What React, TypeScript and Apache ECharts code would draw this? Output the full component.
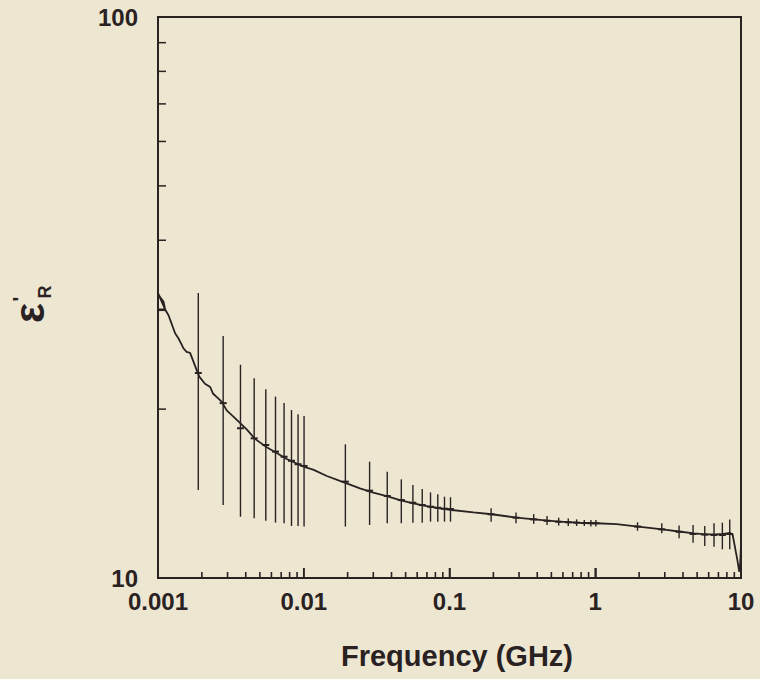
import React, { useEffect, useRef } from "react";
import * as echarts from "echarts";

const curveFreq = [
  0.001, 0.00112, 0.001, 0.00103, 0.00109, 0.00112, 0.00118, 0.00124, 0.00131, 0.00138,
  0.00146, 0.00149, 0.00157, 0.00166, 0.00173, 0.00184, 0.00192, 0.0021, 0.00228, 0.00239,
  0.00259, 0.00274, 0.00296, 0.00329, 0.00365, 0.00406, 0.00463, 0.00557, 0.00652, 0.00764,
  0.00848, 0.00993, 0.0116, 0.0144, 0.0177, 0.0197, 0.0243, 0.03, 0.0371, 0.0458,
  0.0564, 0.0698, 0.0861, 0.1035, 0.146, 0.195, 0.289, 0.382, 0.472, 0.567,
  0.753, 1.02, 1.4, 1.97, 2.9, 3.86, 4.76, 5.73, 6.63, 7.56,
  8.4, 8.77, 8.99, 9.44, 9.73, 9.87, 10.0,
];
const curveEps = [
  30.1, 30.1, 32.2, 31.7, 31.1, 30.1, 29.4, 28.4, 27.3, 26.75,
  26.0, 25.7, 25.3, 25.2, 24.5, 23.5, 22.85, 22.2, 21.9, 21.3,
  20.9, 20.6, 19.9, 19.4, 18.9, 18.4, 17.7, 17.1, 16.7, 16.3,
  16.1, 15.8, 15.6, 15.2, 14.9, 14.75, 14.45, 14.2, 14.0, 13.77,
  13.59, 13.43, 13.31, 13.22, 13.09, 12.99, 12.81, 12.72, 12.65, 12.6,
  12.55, 12.52, 12.47, 12.35, 12.21, 12.09, 12.01, 11.96, 11.96, 11.98,
  12.04, 11.93, 11.53, 10.77, 10.26, 10.6, 11.5,
];

const barFreq = [
  0.00189, 0.0028, 0.00368, 0.00457, 0.00549, 0.0064, 0.00733, 0.00824, 0.00914, 0.01005,
  0.0193, 0.0283, 0.0374, 0.0467, 0.0561, 0.065, 0.0741, 0.0831, 0.0924, 0.1016,
  0.193, 0.286, 0.378, 0.467, 0.561, 0.653, 0.745, 0.841, 0.934, 1.01,
  1.95, 2.86, 3.76, 4.69, 5.64, 6.53, 7.45, 8.37,
];
const barCenter = [
  23.2, 20.5, 18.49, 17.74, 17.26, 16.8, 16.45, 16.18, 15.95, 15.84,
  14.85, 14.31, 14.0, 13.77, 13.62, 13.49, 13.4, 13.34, 13.29, 13.27,
  12.99, 12.81, 12.72, 12.65, 12.6, 12.57, 12.55, 12.53, 12.52, 12.52,
  12.35, 12.21, 12.09, 11.98, 11.95, 11.93, 11.93, 11.98,
];
const barLow = [
  14.35, 13.49, 12.86, 12.78, 12.65, 12.55, 12.52, 12.38, 12.38, 12.35,
  12.35, 12.43, 12.52, 12.52, 12.55, 12.55, 12.6, 12.6, 12.6, 12.6,
  12.6, 12.52, 12.49, 12.43, 12.4, 12.38, 12.38, 12.38, 12.35, 12.35,
  12.14, 12.02, 11.77, 11.56, 11.4, 11.37, 11.25, 11.25,
];
const barHigh = [
  32.2, 27.0, 24.0, 22.7, 21.7, 21.05, 20.5, 19.93, 19.58, 19.45,
  17.31, 16.12, 15.47, 14.99, 14.65, 14.41, 14.21, 14.1, 13.96, 13.93,
  13.31, 13.09, 13.0, 12.9, 12.81, 12.76, 12.72, 12.69, 12.69, 12.69,
  12.57, 12.52, 12.4, 12.43, 12.38, 12.52, 12.55, 12.72,
];

const xMajorTicks = [0.01, 0.1, 1, 10];
const xMinorTicks = [
  0.002, 0.003, 0.004, 0.005, 0.006, 0.007, 0.008, 0.009,
  0.02, 0.03, 0.04, 0.05, 0.06, 0.07, 0.08, 0.09,
  0.2, 0.3, 0.4, 0.5, 0.6, 0.7, 0.8, 0.9,
  2, 3, 4, 5, 6, 7, 8, 9,
];
const yMinorTicks = [20, 30, 40, 50, 60, 70, 80, 90];
const xTickLabels = ["0.001", "0.01", "0.1", "1", "10"];
const yTickLabels = ["10", "100"];

const BG = "#EDE7D2";
const INK = "#2a2222";
const FONT = "'Liberation Sans', Arial, sans-serif";

export default function App() {
  const ref = useRef<HTMLDivElement>(null);
  useEffect(() => {
    if (!ref.current) return;
    const chart = echarts.init(ref.current, null, { renderer: "svg" });
    // [x, y, direction (0 = up from bottom axis, 1 = right from left axis), length]
    const tickData: number[][] = [];
    yMinorTicks.forEach((v) => tickData.push([0.001, v, 1, 8]));
    xMajorTicks.forEach((v) => tickData.push([v, 10, 0, 10]));
    xMinorTicks.forEach((v) => tickData.push([v, 10, 0, 6]));
    const option: any = {
      animation: false,
      backgroundColor: BG,
      grid: { left: 158, top: 17, width: 583, height: 561, show: true, borderColor: INK, borderWidth: 2 },
      xAxis: {
        type: "log",
        min: 0.001,
        max: 10,
        axisLine: { lineStyle: { color: INK, width: 2 } },
        axisTick: { show: true, inside: true, length: 10, lineStyle: { color: INK, width: 1.5 } },
        splitLine: { show: false },
        axisLabel: {
          margin: 11,
          color: INK,
          fontSize: 24,
          fontWeight: "bold",
          fontFamily: FONT,
          showMinLabel: true,
          showMaxLabel: true,
          formatter: (v: number) => xTickLabels[Math.round(Math.log10(v)) + 3] ?? "",
        },
      },
      yAxis: {
        type: "log",
        min: 10,
        max: 100,
        axisLine: { lineStyle: { color: INK, width: 2 } },
        axisTick: { show: false },
        splitLine: { show: false },
        axisLabel: {
          margin: 20,
          color: INK,
          fontSize: 24,
          fontWeight: "bold",
          fontFamily: FONT,
          showMinLabel: true,
          showMaxLabel: true,
          formatter: (v: number) => yTickLabels[Math.round(Math.log10(v)) - 1] ?? "",
        },
      },
      graphic: [
        {
          type: "text",
          x: 457,
          y: 656,
          style: { text: "Frequency (GHz)", fill: INK, font: `bold 29px ${FONT}`, align: "center", verticalAlign: "middle" },
        },
        {
          type: "text",
          x: 29,
          y: 313,
          rotation: Math.PI / 2,
          style: { text: "ε", fill: INK, font: `bold 42px ${FONT}`, align: "center", verticalAlign: "middle" },
        },
        {
          type: "text",
          x: 45,
          y: 292,
          rotation: Math.PI / 2,
          style: { text: "R", fill: INK, font: `bold 18px ${FONT}`, align: "center", verticalAlign: "middle" },
        },
        {
          type: "text",
          x: 20,
          y: 299,
          rotation: Math.PI / 2,
          style: { text: "'", fill: INK, font: `bold 20px ${FONT}`, align: "center", verticalAlign: "middle" },
        },
      ],
      series: [
        {
          type: "custom",
          clip: false,
          data: tickData,
          renderItem: (params: any, api: any) => {
            const p = api.coord([api.value(0), api.value(1)]);
            const dir = api.value(2);
            const len = api.value(3);
            const shape =
              dir === 1
                ? { x: p[0], y: p[1] - 0.75, width: len, height: 1.5 }
                : { x: p[0] - 0.8, y: p[1] - len, width: 1.6, height: len };
            return { type: "rect", shape, style: { fill: INK } };
          },
          z: 5,
        },
        {
          type: "custom",
          clip: false,
          data: barFreq.map((f, i) => [f, barCenter[i], barLow[i], barHigh[i]]),
          renderItem: (params: any, api: any) => {
            const f = api.value(0);
            const pc = api.coord([f, api.value(1)]);
            const pl = api.coord([f, api.value(2)]);
            const ph = api.coord([f, api.value(3)]);
            return {
              type: "group",
              children: [
                { type: "line", shape: { x1: pl[0], y1: pl[1], x2: ph[0], y2: ph[1] }, style: { stroke: INK, lineWidth: 1.4 } },
                { type: "line", shape: { x1: pc[0] - 3.5, y1: pc[1], x2: pc[0] + 3.5, y2: pc[1] }, style: { stroke: INK, lineWidth: 2 } },
              ],
            };
          },
          z: 3,
        },
        {
          type: "line",
          clip: false,
          data: curveFreq.map((f, i) => [f, curveEps[i]]),
          showSymbol: false,
          symbol: "none",
          lineStyle: { color: INK, width: 1.8 },
          z: 3,
        },
      ],
    };
    chart.setOption(option);
    return () => chart.dispose();
  }, []);
  return <div ref={ref} style={{ position: "fixed", left: 0, top: 0, width: 760, height: 679, background: BG }} />;
}
